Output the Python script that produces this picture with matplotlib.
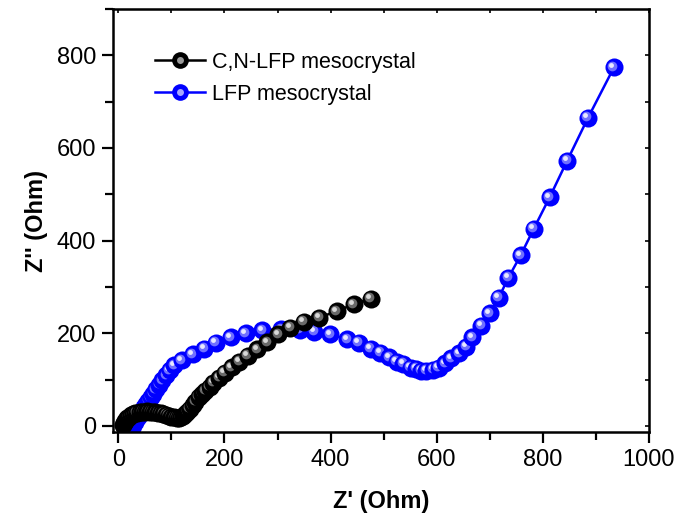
import matplotlib
matplotlib.use("Agg")
import matplotlib.pyplot as plt
from matplotlib.lines import Line2D
from matplotlib.legend_handler import HandlerTuple
from matplotlib.transforms import offset_copy
from matplotlib.ticker import MultipleLocator

plt.rcParams['font.family'] = ['Liberation Sans', 'DejaVu Sans']

# ---- data ----
cn_x = [8, 10, 12, 14, 17, 20, 23, 27, 31, 35, 40, 45, 50, 55, 60, 65, 70, 75, 80, 85,
        90, 95, 100, 105, 110, 114, 118, 122, 126, 130, 135, 140, 145, 152, 158, 164,
        172, 179, 190, 201, 214, 228, 244, 262, 281, 301, 324, 349, 379, 412, 444, 476]
cn_y = [2, 6, 10, 13, 17, 20, 23, 25, 27, 29, 30, 31, 31, 32, 31, 31, 30, 29, 28, 26,
        24, 22, 20, 19, 18, 18, 19, 22, 26, 31, 37, 45, 52, 63, 70, 76,
        85, 93, 104, 115, 127, 139, 152, 166, 181, 198, 212, 225, 234, 248, 263, 275]

lfp_x = [25, 28, 31, 34, 37, 40, 44, 48, 52, 56, 61, 66, 71, 77, 83, 90, 97, 105, 120,
         140, 162, 184, 212, 240, 271, 307, 342, 369, 399, 431, 453, 476, 494, 511, 525,
         537, 551, 561, 571, 580, 593, 604, 616, 627, 642, 656, 667, 684, 700, 717, 735,
         758, 783, 813, 846, 885, 934]
lfp_y = [-5, 2, 8, 14, 20, 26, 33, 40, 47, 54, 62, 70, 79, 89, 99, 110, 120, 131, 142,
         155, 167, 180, 191, 200, 207, 209, 208, 203, 198, 187, 180, 167, 158, 148, 139,
         134, 126, 123, 119, 119, 121, 126, 135, 146, 157, 171, 191, 216, 243, 277, 320,
         368, 426, 494, 573, 665, 774]

labels = ['C,N-LFP mesocrystal', 'LFP mesocrystal']
xticks = [0, 200, 400, 600, 800, 1000]
yticks = [0, 200, 400, 600, 800]

fig = plt.figure(figsize=(6.79, 5.22), dpi=100)
ax = fig.add_axes([113 / 679, 1 - 432 / 522, (649 - 113) / 679, (432 - 9) / 522])

MS = 13


def spheres(xs, ys, body, mid, light, z0):
    ax.plot(xs, ys, '-', color=body, lw=1.8, zorder=z0)
    hl = offset_copy(ax.transData, fig=fig, x=-1.5, y=1.5, units='dots')
    hl2 = offset_copy(ax.transData, fig=fig, x=-2.5, y=2.5, units='dots')
    n = len(xs)
    for i, (x, y) in enumerate(zip(xs, ys)):
        z = z0 + 0.1 + i * 3.0 / n / 10
        ax.plot([x], [y], 'o', ms=MS, color=body, mec=body, mew=0, zorder=z)
        ax.plot([x], [y], 'o', ms=7, color=mid, mew=0, zorder=z + 0.0001, transform=hl)
        ax.plot([x], [y], 'o', ms=3.5, color=light, mew=0, zorder=z + 0.0002, transform=hl2)


spheres(lfp_x, lfp_y, '#0000ff', '#7070ff', '#e8e8ff', 2)
spheres(cn_x, cn_y, '#000000', '#6a6a6a', '#d8d8d8', 4)

ax.set_xlim(-10, 1000)
ax.set_ylim(-13, 900)
ax.set_xticks(xticks)
ax.set_yticks(yticks)
ax.xaxis.set_minor_locator(MultipleLocator(100))
ax.yaxis.set_minor_locator(MultipleLocator(100))
ax.tick_params(which='major', direction='out', length=8, width=1.6, labelsize=17, pad=4)
ax.tick_params(which='minor', direction='out', length=6, width=1.6)
for s in ax.spines.values():
    s.set_linewidth(1.8)

# inward ticks on the top and right frame
sx = ax.secondary_xaxis('top')
sx.set_xticks(range(0, 1001, 100))
sx.tick_params(direction='in', length=3, width=1.2, labeltop=False)
sx.set_xticklabels([])
sy = ax.secondary_yaxis('right')
sy.set_yticks(range(0, 801, 100))
sy.tick_params(direction='in', length=3, width=1.2, labelright=False)
sy.set_yticklabels([])

ax.set_xlabel("Z' (Ohm)", fontsize=17, fontweight='bold', labelpad=14)
ax.set_ylabel("Z'' (Ohm)", fontsize=17, fontweight='bold', labelpad=6)

h1 = (Line2D([], [], color='black', lw=1.8, marker='o', ms=12, mew=0),
      Line2D([], [], ls='none', marker='o', ms=5, color='#9a9a9a', mew=0))
h2 = (Line2D([], [], color='#0000ff', lw=1.8, marker='o', ms=12, mew=0),
      Line2D([], [], ls='none', marker='o', ms=5, color='#a8a8ff', mew=0))
ax.legend([h1, h2], labels, handler_map={tuple: HandlerTuple(ndivide=1, pad=0)},
          loc='upper left', bbox_to_anchor=(155 / 679, 1 - 52 / 522),
          bbox_transform=fig.transFigure, frameon=False, fontsize=15.5,
          handlelength=2.3, handletextpad=0.35, labelspacing=0.5,
          borderpad=0, borderaxespad=0)

fig.savefig('out.png', dpi=100)
